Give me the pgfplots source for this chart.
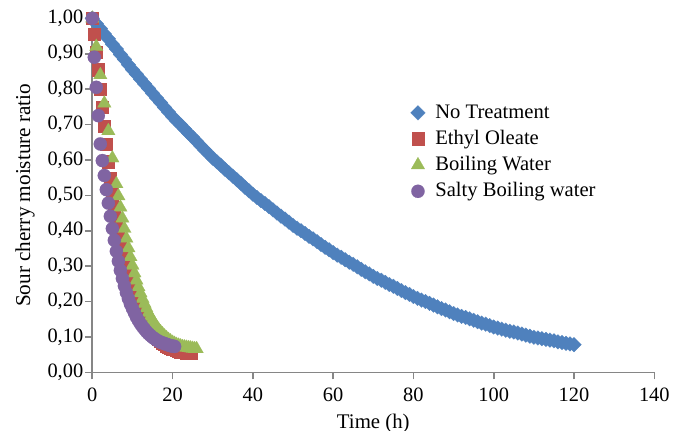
\documentclass[border=0pt]{standalone}
\usepackage{fontspec}
\setmainfont{Liberation Serif}
\usepackage{pgfplots}
\pgfplotsset{compat=1.18}
\definecolor{ntblue}{HTML}{4F81BD}
\definecolor{eored}{HTML}{C0504D}
\definecolor{bwgreen}{HTML}{9BBB59}
\definecolor{sbpurple}{HTML}{8064A2}
\definecolor{axisgray}{HTML}{868686}
\begin{document}
\begin{tikzpicture}
\begin{axis}[
    scale only axis, width=281pt, height=177pt,
    xmin=0, xmax=140, ymin=0, ymax=1,
    clip=false,
    axis lines=left,
    axis line style={-, draw=axisgray, line width=0.8pt},
    tick align=outside, major tick length=3.5pt,
    tick style={draw=axisgray, line width=0.8pt},
    xtick={0,20,40,60,80,100,120,140},
    ytick={0,0.1,0.2,0.3,0.4,0.5,0.6,0.7,0.8,0.9,1},
    /pgf/number format/assume math mode=true,
    yticklabel style={xshift=2.5pt, /pgf/number format/.cd, fixed, fixed zerofill, precision=2, use comma},
    xticklabel style={yshift=-1pt, /pgf/number format/.cd, fixed},
    tick label style={font=\fontsize{10.2}{12}\selectfont},
    xlabel style={font=\fontsize{10.4}{12}\selectfont, yshift=1pt},
    ylabel style={font=\fontsize{10.6}{12}\selectfont, yshift=-0.5pt},
    xlabel={Time (h)},
    ylabel={Sour cherry moisture ratio},
    legend style={draw=none, fill=none, at={(0.555,0.78)}, anchor=north west,
        font=\fontsize{10.3}{12}\selectfont, row sep=0.5pt,
        /tikz/every even column/.append style={column sep=1pt},
        /tikz/every odd column/.append style={column sep=3pt}},
    legend cell align=left,
]
% No Treatment
\addplot[only marks, mark=square*, mark size=2.6pt,
    mark options={rotate=45, fill=ntblue, draw=ntblue, line width=0.1pt}]
coordinates {
(0,1.000) (1,0.985) (2,0.971) (3,0.956) (4,0.942) (5,0.927) (6,0.913) (7,0.898) (8,0.884) (9,0.869)
(10,0.855) (11,0.842) (12,0.828) (13,0.815) (14,0.802) (15,0.788) (16,0.775) (17,0.762) (18,0.748) (19,0.735)
(20,0.722) (21,0.710) (22,0.699) (23,0.687) (24,0.675) (25,0.664) (26,0.652) (27,0.640) (28,0.628) (29,0.617)
(30,0.605) (31,0.595) (32,0.585) (33,0.574) (34,0.564) (35,0.554) (36,0.544) (37,0.534) (38,0.523) (39,0.513)
(40,0.503) (41,0.494) (42,0.485) (43,0.477) (44,0.468) (45,0.459) (46,0.450) (47,0.441) (48,0.433) (49,0.424)
(50,0.415) (51,0.407) (52,0.400) (53,0.392) (54,0.384) (55,0.377) (56,0.369) (57,0.361) (58,0.353) (59,0.346)
(60,0.338) (61,0.331) (62,0.325) (63,0.318) (64,0.311) (65,0.305) (66,0.298) (67,0.291) (68,0.284) (69,0.278)
(70,0.271) (71,0.265) (72,0.260) (73,0.254) (74,0.248) (75,0.243) (76,0.237) (77,0.231) (78,0.225) (79,0.220)
(80,0.214) (81,0.209) (82,0.204) (83,0.200) (84,0.195) (85,0.190) (86,0.185) (87,0.180) (88,0.176) (89,0.171)
(90,0.166) (91,0.162) (92,0.158) (93,0.155) (94,0.151) (95,0.147) (96,0.143) (97,0.139) (98,0.136) (99,0.132)
(100,0.128) (101,0.125) (102,0.122) (103,0.119) (104,0.116) (105,0.114) (106,0.111) (107,0.108) (108,0.105) (109,0.102)
(110,0.099) (111,0.097) (112,0.095) (113,0.093) (114,0.091) (115,0.089) (116,0.086) (117,0.084) (118,0.082) (119,0.080)
(120,0.078)
};
% Ethyl Oleate
\addplot[only marks, mark=square*, mark size=3.1pt,
    mark options={fill=eored, draw=eored, line width=0.1pt}]
coordinates {
(0,1.000) (0.5,0.955) (1,0.905) (1.5,0.855) (2,0.800) (2.5,0.750) (3,0.695) (3.5,0.645) (4,0.595) (4.5,0.548)
(5,0.505) (5.5,0.465) (6,0.428) (6.5,0.394) (7,0.362) (7.5,0.334) (8,0.308) (8.5,0.285) (9,0.264) (9.5,0.245)
(10,0.228) (10.5,0.212) (11,0.197) (11.5,0.183) (12,0.170) (12.5,0.158) (13,0.147) (13.5,0.137) (14,0.128) (14.5,0.120)
(15,0.112) (15.5,0.105) (16,0.099) (16.5,0.093) (17,0.088) (17.5,0.084) (18,0.080) (18.5,0.076) (19,0.073) (19.5,0.070)
(20,0.067) (20.5,0.065) (21,0.063) (21.5,0.061) (22,0.059) (22.5,0.058) (23,0.057) (23.5,0.056) (24,0.055) (24.5,0.054)
};
% Boiling Water
\addplot[only marks, mark=triangle*, mark size=3.9pt,
    mark options={fill=bwgreen, draw=bwgreen, line width=0.1pt}]
coordinates {
(0,1.000) (1,0.920) (2,0.840) (3,0.760) (4,0.682) (5,0.605) (6,0.532) (6.5,0.498) (7,0.466) (7.5,0.435)
(8,0.406) (8.5,0.378) (9,0.351) (9.5,0.326) (10,0.302) (10.5,0.280) (11,0.260) (11.5,0.241) (12,0.224) (12.5,0.208)
(13,0.194) (13.5,0.181) (14,0.168) (14.5,0.157) (15,0.147) (15.5,0.138) (16,0.129) (16.5,0.121) (17,0.114) (17.5,0.108)
(18,0.102) (18.5,0.097) (19,0.092) (19.5,0.088) (20,0.084) (20.5,0.081) (21,0.078) (21.5,0.076) (22,0.074) (22.5,0.072)
(23,0.071) (23.5,0.070) (24,0.069) (24.5,0.068) (25,0.067) (25.5,0.066) (26,0.066)
};
% Salty Boiling water
\addplot[only marks, mark=*, mark size=3.3pt,
    mark options={fill=sbpurple, draw=sbpurple, line width=0.1pt}]
coordinates {
(0,1.000) (0.5,0.890) (1,0.805) (1.5,0.725) (2,0.645) (2.5,0.598) (3,0.556) (3.5,0.516) (4,0.478) (4.5,0.441)
(5,0.406) (5.5,0.373) (6,0.342) (6.5,0.314) (7,0.288) (7.5,0.265) (8,0.244) (8.5,0.225) (9,0.208) (9.5,0.193)
(10,0.180) (10.5,0.168) (11,0.156) (11.5,0.146) (12,0.137) (12.5,0.129) (13,0.122) (13.5,0.115) (14,0.109) (14.5,0.104)
(15,0.099) (15.5,0.095) (16,0.091) (16.5,0.088) (17,0.085) (17.5,0.083) (18,0.081) (18.5,0.079) (19,0.077) (19.5,0.075)
(20,0.074) (20.5,0.073)
};
\legend{No Treatment, Ethyl Oleate, Boiling Water, Salty Boiling water}
\end{axis}
\pgfresetboundingbox
\path (-46.15pt,-28.85pt) rectangle (290.85pt,186.15pt);
\end{tikzpicture}
\end{document}
